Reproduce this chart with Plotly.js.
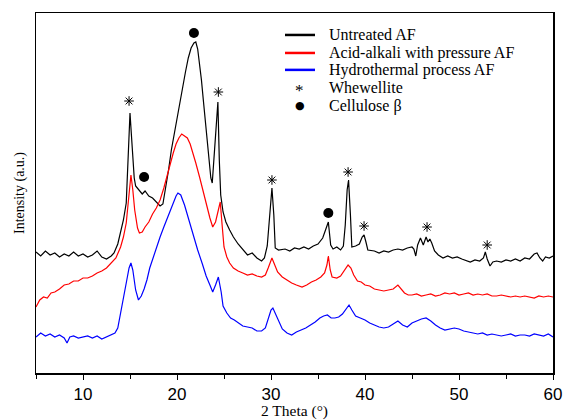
<!DOCTYPE html>
<html>
<head>
<meta charset="utf-8">
<script src="https://cdn.plot.ly/plotly-3.0.1.min.js"></script>
<style>html,body{margin:0;padding:0;background:#fff;}#chart{width:567px;height:420px;}</style>
</head>
<body>
<div id="chart"></div>
<script>
// Untreated AF
const xUntreated = [5.0,5.5,6.0,6.5,7.0,7.5,8.0,8.5,9.0,9.5,10.0,10.5,11.0,11.5,12.0,12.5,13.0,13.3,13.7,14.0,14.3,14.6,14.8,15.0,15.15,15.3,15.45,15.6,16.0,16.3,16.6,17.0,17.4,17.8,18.2,18.5,18.8,19.1,19.4,19.7,20.0,20.3,20.6,20.9,21.2,21.5,21.8,22.0,22.2,22.4,22.6,22.8,23.0,23.2,23.4,23.6,23.75,23.9,24.1,24.35,24.5,24.65,24.9,25.2,25.6,26.0,26.5,27.0,27.5,28.0,28.5,29.0,29.3,29.6,29.9,30.1,30.3,30.45,30.8,31.5,32.0,32.5,33.0,33.5,34.0,34.5,35.0,35.5,35.8,36.1,36.35,36.6,37.0,37.4,37.7,37.9,38.1,38.25,38.45,38.6,39.0,39.4,39.7,39.9,40.1,40.3,41.0,41.5,42.0,42.5,43.0,43.5,44.0,44.5,45.0,45.2,45.4,45.6,45.9,46.2,46.5,46.7,46.9,47.1,47.4,47.8,48.3,48.8,49.3,49.8,50.3,50.8,51.2,51.7,52.2,52.6,52.8,53.0,53.3,53.6,54.0,54.5,55.0,55.5,56.0,56.5,57.0,57.5,58.0,58.3,58.6,58.9,59.2,59.6,60.0];
const yUntreated = [121,117,122,118,120,116,119,117,121,117,119,116,118,122,116,114,117,120,129,141,153,170,213,260,238,213,195,187,183,179,182,177,175,171,167,169,185,203,223,239,255,270,288,301,315,325,330,331,324,311,293,273,253,230,211,195,190,213,243,271,213,178,161,151,143,136,129,123,118,120,115,112,115,127,158,185,158,125,123,124,122,125,124,126,124,127,129,135,143,151,128,124,126,123,127,148,183,193,158,126,127,129,136,138,131,123,122,120,122,121,123,124,123,125,126,124,117,128,135,128,136,131,134,130,122,118,115,117,115,116,114,112,111,113,112,115,121,114,107,111,112,111,113,112,114,112,115,114,119,120,115,112,116,115,117];

// Acid-alkali with pressure AF
const xAcid = [5.0,5.4,5.8,6.2,6.6,7.0,7.5,8.0,8.5,9.0,9.5,10.0,10.5,11.0,11.5,12.0,12.5,13.0,13.5,14.0,14.3,14.6,14.85,15.1,15.3,15.5,15.8,16.0,16.3,16.6,17.0,17.4,17.8,18.2,18.6,18.9,19.3,19.6,19.9,20.2,20.5,20.8,21.1,21.4,21.7,22.0,22.4,22.8,23.2,23.5,23.8,24.1,24.4,24.6,24.8,25.0,25.3,25.6,26.0,26.5,27.0,27.5,28.0,28.5,29.0,29.4,29.7,30.1,30.4,30.7,31.2,31.7,32.2,32.7,33.3,33.8,34.3,34.8,35.3,35.7,35.95,36.1,36.3,36.5,37.0,37.4,37.8,38.2,38.5,38.8,39.2,39.6,40.0,40.5,41.0,41.5,42.0,42.5,43.0,43.5,43.8,44.2,44.6,45.0,45.5,46.0,46.5,47.0,47.5,48.0,48.5,49.0,49.5,50.0,50.5,51.0,51.5,52.0,52.5,53.0,53.5,54.0,54.5,55.0,55.5,56.0,56.5,57.0,57.5,58.0,58.5,59.0,59.5,60.0];
const yAcid = [66,73,76,75,80,81,84,88,89,92,92,95,95,97,100,102,105,110,115,126,136,150,173,198,183,163,145,140,141,146,151,159,165,173,185,196,210,220,229,235,239,237,235,229,220,210,196,180,166,155,146,151,163,171,148,126,116,110,105,102,100,98,99,97,96,98,105,115,108,101,96,93,90,88,86,88,91,93,96,100,108,117,103,96,95,97,103,108,105,98,92,91,88,87,84,83,82,83,84,88,85,80,78,78,79,77,78,79,77,78,80,79,80,78,79,80,78,79,78,79,77,77,78,77,76,77,76,77,76,75,77,76,77,76];

// Hydrothermal process AF
const xHydro = [5.0,5.5,6.0,6.5,7.0,7.5,8.0,8.3,8.6,9.0,9.5,10.0,10.5,11.0,11.5,12.0,12.5,13.0,13.4,13.7,14.0,14.3,14.6,14.9,15.1,15.3,15.6,15.9,16.2,16.5,16.8,17.1,17.5,17.9,18.2,18.6,19.0,19.3,19.6,19.9,20.1,20.4,20.8,21.2,21.7,22.2,22.7,23.1,23.5,23.8,24.1,24.4,24.7,24.9,25.3,25.7,26.1,26.6,27.0,27.5,28.0,28.5,29.0,29.4,29.7,30.0,30.2,30.5,30.8,31.2,31.7,32.2,32.7,33.2,33.7,34.2,34.7,35.2,35.6,36.0,36.4,36.8,37.2,37.6,38.0,38.3,38.6,39.0,39.5,40.0,40.5,41.0,41.5,42.0,42.5,43.0,43.5,44.0,44.5,45.0,45.5,46.0,46.5,47.0,47.5,48.0,48.5,49.0,49.5,50.0,50.5,51.0,51.5,52.0,52.5,53.0,53.5,54.0,54.5,55.0,55.5,56.0,56.5,57.0,57.5,58.0,58.5,59.0,59.5,60.0];
const yHydro = [36,40,37,39,36,38,35,30,36,37,35,36,37,35,37,34,36,38,40,45,61,78,90,105,110,103,83,73,77,84,93,105,117,128,136,146,156,163,170,177,180,178,168,155,140,123,109,97,88,81,88,96,81,67,60,55,53,50,47,46,45,42,42,45,55,63,65,59,52,44,40,38,41,43,45,48,51,55,57,58,55,55,56,59,64,68,63,57,55,53,50,48,46,45,46,49,52,48,46,50,52,54,55,52,48,45,43,44,45,44,42,41,40,39,40,38,39,38,37,38,39,37,38,38,37,39,38,37,39,36];

// Peak labels
const xWhewellite = [14.9,24.4,30.1,38.2,39.9,46.6,53.0];
const yWhewellite = [272,281,193,201,147,146,128];
const xCellulose = [16.5,21.8,36.1];
const yCellulose = [196,340,160];

const seriesNames = ['Untreated AF','Acid-alkali with pressure AF','Hydrothermal process AF'];
const seriesColors = ['#000000','#ff0000','#0000ff'];
const markerNames = ['Whewellite','Cellulose \u03b2'];

const serif = 'Liberation Serif, Times New Roman, serif';
const lineW = 1.2;

const traces = [
  {x:xUntreated, y:yUntreated, name:seriesNames[0], type:'scatter', mode:'lines', line:{color:seriesColors[0], width:lineW}},
  {x:xAcid, y:yAcid, name:seriesNames[1], type:'scatter', mode:'lines', line:{color:seriesColors[1], width:lineW}},
  {x:xHydro, y:yHydro, name:seriesNames[2], type:'scatter', mode:'lines', line:{color:seriesColors[2], width:lineW}},
  {x:xWhewellite, y:yWhewellite, name:markerNames[0], type:'scatter', mode:'markers',
   marker:{symbol:'asterisk-open', size:8, color:'#000', line:{color:'#000', width:1}}},
  {x:xCellulose, y:yCellulose, name:markerNames[1], type:'scatter', mode:'markers',
   marker:{symbol:'circle', size:10, color:'#000'}}
];

// Manual legend (compact row spacing like the reference)
const legRowY = [0.939, 0.889, 0.842, 0.792, 0.742];
const legLineX0 = 0.4816, legLineX1 = 0.5397, legSymX = 0.5106, legTextX = 0.5629;
const shapes = [];
const annotations = [];
const legLabels = seriesNames.concat(markerNames);
for (let i = 0; i < 3; i++) {
  shapes.push({type:'line', xref:'paper', yref:'paper', x0:legLineX0, x1:legLineX1, y0:legRowY[i], y1:legRowY[i],
               line:{color:seriesColors[i], width:2.5}});
}
annotations.push({xref:'paper', yref:'paper', x:legSymX, y:legRowY[3], text:'*', showarrow:false,
                  xanchor:'center', yanchor:'middle', yshift:-3, font:{family:serif, size:17, color:'#000'}});
annotations.push({xref:'paper', yref:'paper', x:legSymX, y:legRowY[4], text:'\u25cf', showarrow:false,
                  xanchor:'center', yanchor:'middle', font:{family:'DejaVu Sans, sans-serif', size:11, color:'#000'}});
for (let i = 0; i < legLabels.length; i++) {
  annotations.push({xref:'paper', yref:'paper', x:legTextX, y:legRowY[i], text:legLabels[i], showarrow:false,
                    xanchor:'left', yanchor:'middle', font:{family:serif, size:16, color:'#000'}});
}

const layout = {
  width:567, height:420,
  margin:{l:36, r:14, t:13, b:47},
  paper_bgcolor:'#fff', plot_bgcolor:'#fff',
  showlegend:false,
  shapes:shapes, annotations:annotations,
  xaxis:{range:[5,60], tickmode:'array', tickvals:[10,20,30,40,50,60], ticks:'outside', ticklen:5, tickwidth:1, tickcolor:'#000',
         minor:{tickvals:[5,15,25,35,45,55], ticks:'outside', ticklen:4, tickwidth:1, tickcolor:'#000'},
         showline:true, mirror:true, linecolor:'#000', linewidth:1.5, showgrid:false, zeroline:false,
         tickfont:{family:'Liberation Sans, Arial, sans-serif', size:17, color:'#000'},
         title:{text:'2 Theta (\u00b0)', font:{family:serif, size:15.5, color:'#000'}, standoff:3}},
  yaxis:{range:[0,360], showticklabels:false, ticks:'', showline:true, mirror:true, linecolor:'#000', linewidth:1.5,
         showgrid:false, zeroline:false,
         title:{text:'Intensity (a.u.)', font:{family:serif, size:14, color:'#000'}, standoff:6}}
};

Plotly.newPlot('chart', traces, layout, {displayModeBar:false, staticPlot:true});
</script>
</body>
</html>
